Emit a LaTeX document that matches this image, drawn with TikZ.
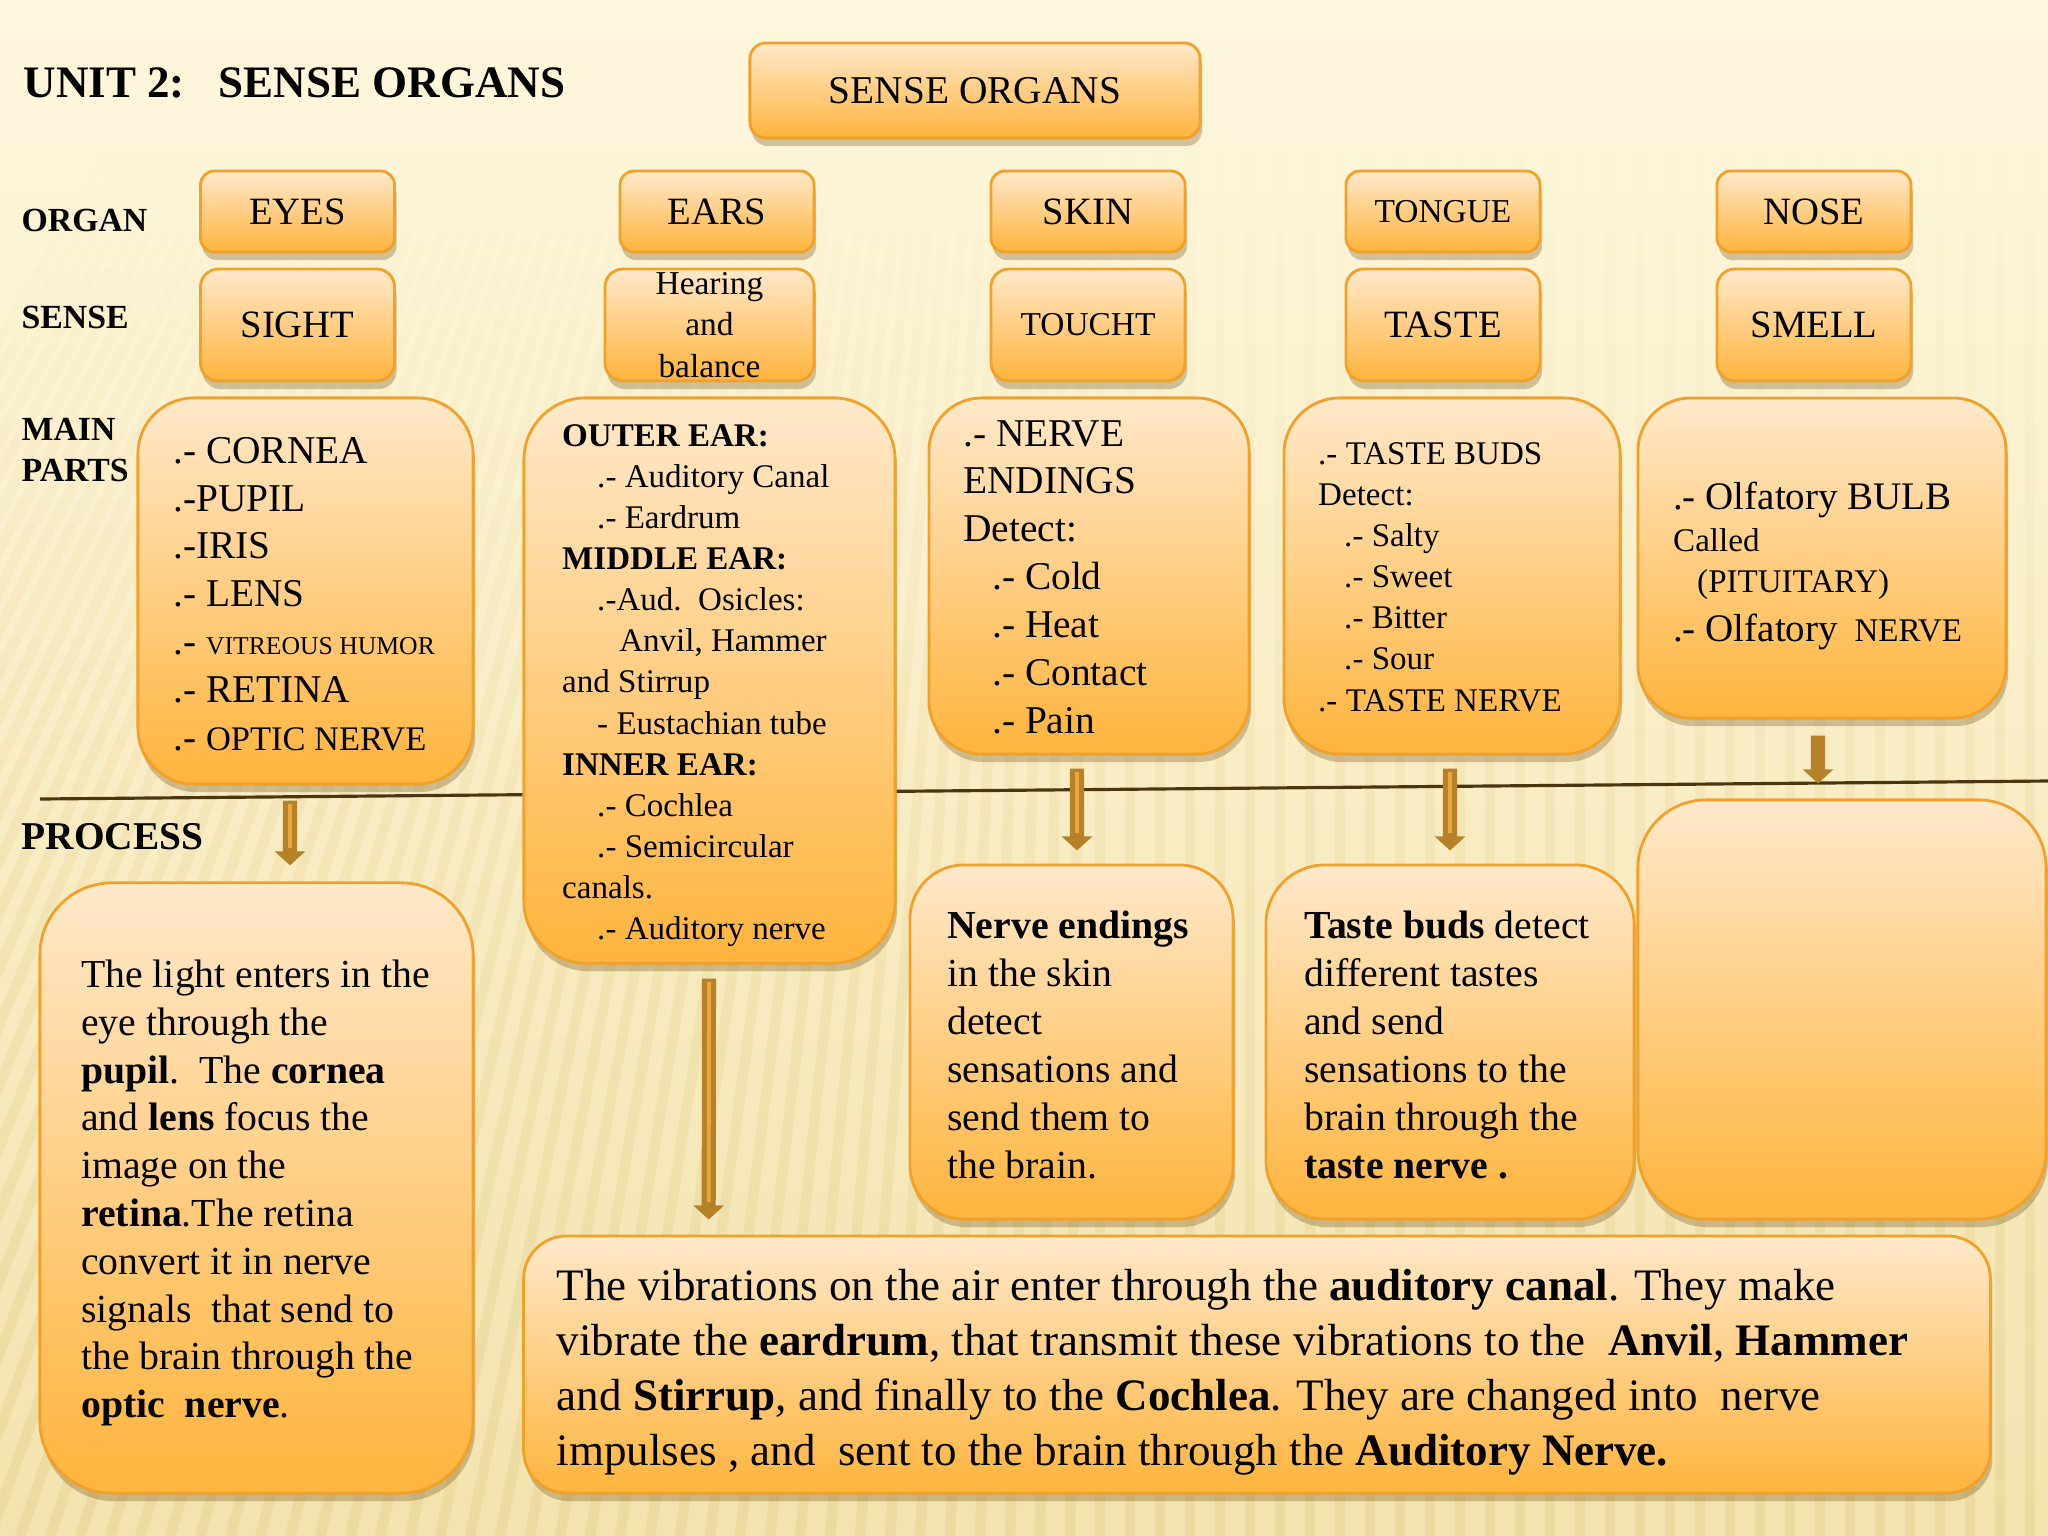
\documentclass[tikz,border=0pt]{standalone}
\usepackage{fontspec}
\setmainfont{Liberation Serif}
\usetikzlibrary{positioning,shadows,arrows.meta,fadings}

\definecolor{bgtop}{HTML}{FEF7DD}
\definecolor{bgbot}{HTML}{F3E3AE}
\definecolor{stripec}{HTML}{E6D08E}
\definecolor{boxtop}{HTML}{FFE8CA}
\definecolor{boxbot}{HTML}{FFB43C}
\definecolor{boxline}{HTML}{F0A12C}
\definecolor{shadowc}{HTML}{6B4A10}
\definecolor{arrowc}{HTML}{B5822A}
\definecolor{arrowlt}{HTML}{EBA63E}
\definecolor{sepline}{HTML}{4B3612}

\newcommand{\fsz}[2]{\fontsize{#1}{#2}\selectfont}
\newcommand{\indl}{\hspace*{0.35cm}}

\tikzstyle{box}=[draw=boxline,line width=0.8pt,top color=boxtop,bottom color=boxbot,inner sep=0pt,
  drop shadow={shadow xshift=0.02cm,shadow yshift=-0.08cm,opacity=0.3,fill=shadowc}]
\tikzstyle{smallbox}=[box,minimum width=1.94cm,font=\fsz{11}{13}]
\tikzstyle{parttext}=[inner sep=0pt,align=left]
\tikzstyle{rowlabel}=[inner sep=0pt,anchor=base west,font=\bfseries\fsz{9.6}{11.7}]
\tikzstyle{stripe}=[draw=stripec,line width=3pt,opacity=0.45,path fading=north]
\tikzstyle{flow}=[draw=arrowc,line width=4pt,-{Triangle[width=8.5pt,length=4pt]}]
\tikzstyle{flowlit}=[flow,postaction={draw=arrowlt,line width=1.1pt,-,shorten >=5pt,shorten <=1pt}]

\begin{document}
\begin{tikzpicture}[x=0.01cm,y=-0.01cm]

    \useasboundingbox (0,0) rectangle (2048,1536);
    \fill[top color=bgtop,bottom color=bgbot] (0,0) rectangle (2048,1536);

    % striped background
    \begin{scope}
        \clip (0,0) rectangle (2048,1536);
        \foreach \x in {-700,-670,...,2080} {
            \pgfmathsetmacro\s{max(0,(1100-\x)*0.45)}
            \draw[stripe] (\x,1536) -- (\x+\s,150);
        }
    \end{scope}

    \draw[sepline,line width=0.9pt] (40,799) -- (2048,781);

    % headings
    \node[inner sep=0pt,anchor=base west,font=\bfseries\fsz{12.8}{15}] (title) at (23,97) {UNIT 2:\ \ \ SENSE ORGANS};
    \node[rowlabel] (organlbl) at (21,231) {ORGAN};
    \node[rowlabel] (senselbl) at (21,328) {SENSE};
    \node[rowlabel,anchor=west,align=left] (partslbl) at (21,450) {MAIN\\PARTS};
    \node[rowlabel,font=\bfseries\fsz{11.2}{13}] (processlbl) at (21,849) {PROCESS};

    \node[box,rounded corners=0.16cm,minimum width=4.5cm,minimum height=0.95cm,font=\fsz{11.2}{13}] (root) at (975,90.5) {SENSE ORGANS};

    % organ row
    \foreach \pos/\name/\txt in {{(297.5,211.5)/eyes/EYES},{(717,211.5)/ears/EARS},{(1088,211.5)/skin/SKIN},
                                 {(1443,211.5)/tongue/{\fsz{9.5}{11}TONGUE}},{(1814,211.5)/nose/NOSE}}
        \node[smallbox,rounded corners=0.14cm,minimum height=0.81cm] (\name) at \pos {\txt};

    % sense row
    \foreach \pos/\name/\txt in {{(297.5,325)/sight/SIGHT},{(1088,325)/touch/{\fsz{9.5}{11}TOUCHT}},
                                 {(1443,325)/taste/TASTE},{(1814,325)/smell/SMELL}}
        \node[smallbox,rounded corners=0.18cm,minimum height=1.12cm] (\name) at \pos {\txt};
    \node[smallbox,rounded corners=0.18cm,minimum width=2.09cm,minimum height=1.12cm,align=center,
          font=\fsz{9.5}{11.7}] (hearing) at (709.5,325) {Hearing\\and\\balance};

    % main parts and process boxes
    \foreach \pos/\name/\w/\h/\r in {{(305.5,591)/eyesparts/3.35/3.86/0.56},{(709.5,680.5)/earsparts/3.71/5.65/0.62},
                                     {(1089,576)/skinparts/3.20/3.56/0.53},{(1452,576)/tongueparts/3.36/3.56/0.56},
                                     {(1822,558)/noseparts/3.68/3.20/0.53},{(256.5,1188)/eyesproc/4.33/6.10/0.72},
                                     {(1071.5,1042)/skinproc/3.23/3.54/0.54},{(1450,1042)/tongueproc/3.68/3.54/0.59},
                                     {(1842,1009.5)/noseproc/4.08/4.19/0.68},{(1257,1364.5)/earsproc/14.66/2.57/0.43}}
        \node[box,rounded corners=\r cm,minimum width=\w cm,minimum height=\h cm] (\name) at \pos {};

    \node[parttext,font=\fsz{11.2}{13.6},right=0.36cm of eyesparts.west,yshift=-0.03cm] (eyeslist)
        {.- CORNEA\\.-PUPIL\\.-IRIS\\.- LENS\\.- {\fsz{7.3}{13.6}VITREOUS HUMOR}\\.- RETINA\\.- {\fsz{9.8}{13.6}OPTIC NERVE}};
    \node[parttext,font=\fsz{9.4}{11.7},right=0.39cm of earsparts.west,yshift=-0.05cm] (earslist)
        {\textbf{OUTER EAR:}\\\indl .- Auditory Canal\\\indl .- Eardrum\\\textbf{MIDDLE EAR:}\\
         \indl .-Aud.\ \ Osicles:\\\hspace*{0.57cm}Anvil, Hammer\\and Stirrup\\\indl - Eustachian tube\\
         \textbf{INNER EAR:}\\\indl .- Cochlea\\\indl .- Semicircular\\canals.\\\indl .- Auditory nerve};
    \node[parttext,font=\fsz{11.2}{13.6},right=0.35cm of skinparts.west,yshift=-0.01cm] (skinlist)
        {.- NERVE\\ENDINGS\\Detect:\\\hspace*{0.29cm}.- Cold\\\hspace*{0.29cm}.- Heat\\
         \hspace*{0.29cm}.- Contact\\\hspace*{0.29cm}.- Pain};
    \node[parttext,font=\fsz{9.4}{11.7},right=0.35cm of tongueparts.west,yshift=-0.01cm] (tonguelist)
        {.- TASTE BUDS\\Detect:\\\hspace*{0.26cm}.- Salty\\\hspace*{0.26cm}.- Sweet\\
         \hspace*{0.26cm}.- Bitter\\\hspace*{0.26cm}.- Sour\\.- TASTE NERVE};
    \node[parttext,font=\fsz{9.4}{11.8},right=0.36cm of noseparts.west,yshift=-0.08cm] (noselist)
        {{\fsz{11.1}{11.8}.- Olfatory BULB}\\Called\\\hspace*{0.24cm}(PITUITARY)\\[0.07cm]
         {\fsz{11.1}{11.8}.- Olfatory}\ \ NERVE};

    \node[parttext,font=\fsz{11.3}{13.6},right=0.42cm of eyesproc.west,yshift=-0.05cm] (eyesinfo)
        {The light enters in the\\eye through the\\\textbf{pupil}.\ \ The \textbf{cornea}\\
         and \textbf{lens} focus the\\image on the\\\textbf{retina}.The retina\\convert it in nerve\\
         signals\ \ that send to\\the brain through the\\\textbf{optic\ \ nerve}.};
    \node[parttext,font=\fsz{11.3}{13.6},right=0.38cm of skinproc.west,yshift=-0.03cm] (skininfo)
        {\textbf{Nerve endings}\\in the skin\\detect\\sensations and\\send them to\\the brain.};
    \node[parttext,font=\fsz{11.3}{13.6},right=0.39cm of tongueproc.west,yshift=-0.03cm] (tongueinfo)
        {\textbf{Taste buds} detect\\different tastes\\and send\\sensations to the\\brain through the\\
         \textbf{taste nerve .}};
    \node[parttext,font=\fsz{12.8}{15.6},right=0.34cm of earsproc.west,yshift=-0.08cm] (earsinfo)
        {The vibrations on the air enter through the \textbf{auditory canal}. They make\\
         vibrate the \textbf{eardrum}, that transmit these vibrations to the\ \ \textbf{Anvil}, \textbf{Hammer}\\
         and \textbf{Stirrup}, and finally to the \textbf{Cochlea}. They are changed into\ \ nerve\\
         impulses , and\ \ sent to the brain through the \textbf{Auditory Nerve.}};

    % arrows from parts to process
    \foreach \source/\sx/\sy/\dest/\dx/\dy in {eyesparts/-0.155/-0.15/eyesproc/0.335/0.16,
                                               earsparts/-0.005/-0.14/earsproc/-5.48/0.15,
                                               skinparts/-0.12/-0.13/skinproc/0.055/0.13,
                                               tongueparts/-0.02/-0.13/tongueproc/0/0.13}
        \draw[flowlit] ([xshift=\sx cm,yshift=\sy cm]\source.south) -- ([xshift=\dx cm,yshift=\dy cm]\dest.north);
    \draw[flow] ([xshift=-0.04cm,yshift=-0.16cm]noseparts.south) -- ([xshift=-0.24cm,yshift=0.15cm]noseproc.north);

\end{tikzpicture}
\end{document}
